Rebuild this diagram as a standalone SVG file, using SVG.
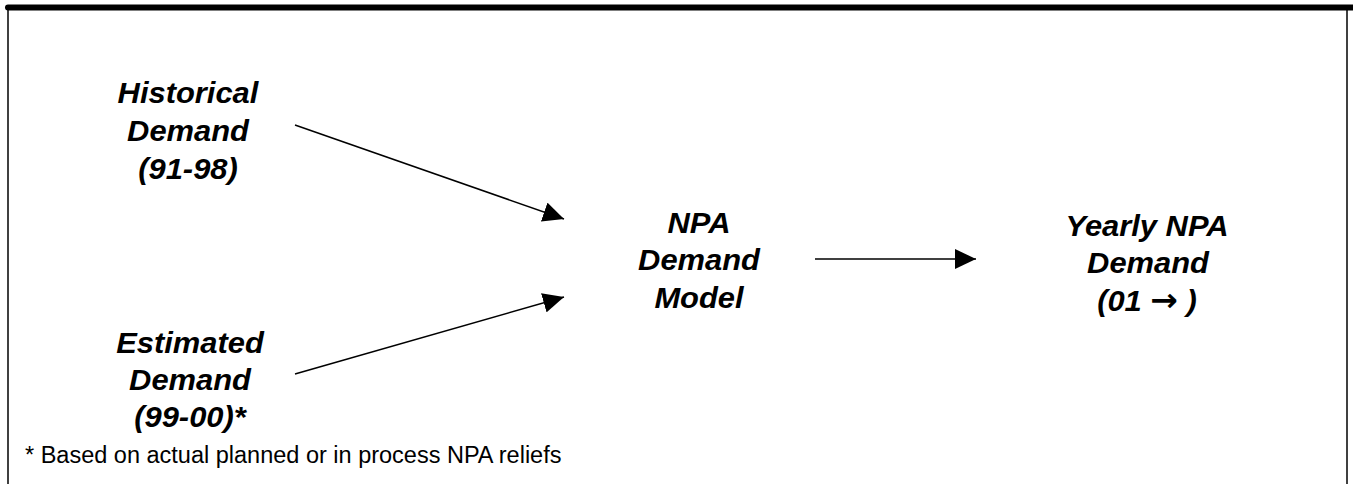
<svg xmlns="http://www.w3.org/2000/svg" width="1353" height="484" viewBox="0 0 1353 484">
<style>
.lbl{font-family:"Liberation Sans",Arial,sans-serif;font-weight:bold;font-style:italic;font-size:30px;fill:#000;text-anchor:middle}
.sym{font-family:"DejaVu Sans",sans-serif;font-weight:bold;font-style:normal;font-size:32px}
.note{font-family:"Liberation Sans",Arial,sans-serif;font-size:23.5px;fill:#000}
.conn{stroke:#000;stroke-width:1.5;fill:none;marker-end:url(#ah)}
</style>
<defs>
<marker id="ah" markerUnits="userSpaceOnUse" viewBox="0 0 21 20" refX="21" refY="10" markerWidth="21" markerHeight="20" orient="auto">
<path d="M0,0 L21,10 L0,20 Z" fill="#000"/>
</marker>
</defs>
<rect width="1353" height="484" fill="#fff"/>
<g id="frame">
<line x1="8" y1="8" x2="8" y2="484" stroke="#000" stroke-width="1.5"/>
<line x1="1347" y1="8" x2="1347" y2="484" stroke="#000" stroke-width="1.5"/>
<line x1="8" y1="7.5" x2="1353" y2="7.5" stroke="#000" stroke-width="6" stroke-linecap="round"/>
</g>
<g id="connectors">
<line class="conn" x1="295" y1="125" x2="564" y2="219"/>
<line class="conn" x1="295" y1="374" x2="564" y2="297"/>
<line class="conn" x1="815" y1="259" x2="976" y2="259"/>
</g>
<g id="historical">
<text class="lbl" transform="translate(188,103) scale(1.03,1)">Historical</text>
<text class="lbl" transform="translate(188,141) scale(1.03,1)">Demand</text>
<text class="lbl" transform="translate(188,179) scale(1.03,1)">(91-98)</text>
</g>
<g id="estimated">
<text class="lbl" transform="translate(190,353) scale(1.03,1)">Estimated</text>
<text class="lbl" transform="translate(190,390) scale(1.03,1)">Demand</text>
<text class="lbl" transform="translate(190,427) scale(1.03,1)">(99-00)*</text>
</g>
<g id="model">
<text class="lbl" transform="translate(699,233) scale(1.03,1)">NPA</text>
<text class="lbl" transform="translate(699,270) scale(1.03,1)">Demand</text>
<text class="lbl" transform="translate(699,308) scale(1.03,1)">Model</text>
</g>
<g id="yearly">
<text class="lbl" transform="translate(1147,236) scale(1.03,1)">Yearly NPA</text>
<text class="lbl" transform="translate(1148,273) scale(1.03,1)">Demand</text>
<text class="lbl" transform="translate(1147,311) scale(1.03,1)">(01 <tspan class="sym">→</tspan> )</text>
</g>
<g id="footnote">
<text class="note" transform="translate(25,463)">* Based on actual planned or in process NPA reliefs</text>
</g>
</svg>
